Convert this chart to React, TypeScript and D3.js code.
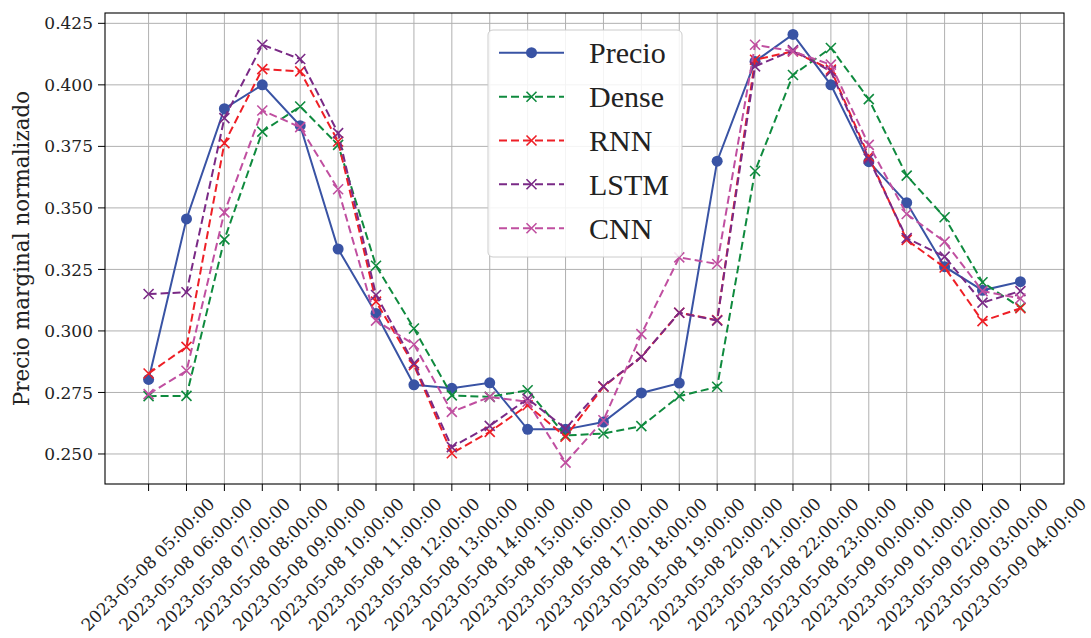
import React from "react";
import * as d3 from "d3";

// Hourly timestamps on the x axis
const timestamps = [
  "2023-05-08 05:00:00", "2023-05-08 06:00:00", "2023-05-08 07:00:00", "2023-05-08 08:00:00",
  "2023-05-08 09:00:00", "2023-05-08 10:00:00", "2023-05-08 11:00:00", "2023-05-08 12:00:00",
  "2023-05-08 13:00:00", "2023-05-08 14:00:00", "2023-05-08 15:00:00", "2023-05-08 16:00:00",
  "2023-05-08 17:00:00", "2023-05-08 18:00:00", "2023-05-08 19:00:00", "2023-05-08 20:00:00",
  "2023-05-08 21:00:00", "2023-05-08 22:00:00", "2023-05-08 23:00:00", "2023-05-09 00:00:00",
  "2023-05-09 01:00:00", "2023-05-09 02:00:00", "2023-05-09 03:00:00", "2023-05-09 04:00:00",
];

// Normalized marginal price and model predictions
const precio = [0.2803, 0.3455, 0.3903, 0.4000, 0.3834, 0.3333, 0.3071, 0.2781, 0.2767, 0.2789, 0.2600, 0.2600, 0.2630, 0.2748, 0.2788, 0.3690, 0.4095, 0.4205, 0.4000, 0.3688, 0.3521, 0.3261, 0.3165, 0.3200];
const dense = [0.2735, 0.2736, 0.3372, 0.3810, 0.3912, 0.3756, 0.3265, 0.3010, 0.2738, 0.2732, 0.2759, 0.2575, 0.2583, 0.2613, 0.2735, 0.2773, 0.3650, 0.4040, 0.4150, 0.3942, 0.3631, 0.3462, 0.3198, 0.3095];
const rnn = [0.2827, 0.2935, 0.3763, 0.4064, 0.4055, 0.3770, 0.3119, 0.2861, 0.2503, 0.2590, 0.2698, 0.2570, 0.2773, 0.2895, 0.3074, 0.3044, 0.4102, 0.4136, 0.4062, 0.3709, 0.3370, 0.3258, 0.3040, 0.3092];
const lstm = [0.3150, 0.3157, 0.3865, 0.4163, 0.4105, 0.3804, 0.3146, 0.2868, 0.2528, 0.2614, 0.2725, 0.2603, 0.2775, 0.2895, 0.3074, 0.3042, 0.4075, 0.4141, 0.4055, 0.3700, 0.3377, 0.3302, 0.3115, 0.3162];
const cnn = [0.2743, 0.2838, 0.3482, 0.3896, 0.3828, 0.3576, 0.3042, 0.2945, 0.2671, 0.2732, 0.2712, 0.2465, 0.2637, 0.2987, 0.3299, 0.3272, 0.4163, 0.4136, 0.4082, 0.3756, 0.3475, 0.3363, 0.3162, 0.3132];

const yTicks = [0.25, 0.275, 0.3, 0.325, 0.35, 0.375, 0.4, 0.425];

const seriesNames = ["Precio", "Dense", "RNN", "LSTM", "CNN"];
const seriesColors = ["#3953a4", "#0f8a3e", "#ee1f26", "#7a2a86", "#c04fa0"];
const seriesValues = [precio, dense, rnn, lstm, cnn];

const W = 1091;
const H = 638;
const plot = { left: 105, right: 1064, top: 13, bottom: 484 };

const tickFont = "'DejaVu Serif', serif";
const legendFont = "'Liberation Serif', serif";

function XMark({ x, y, color }: { x: number; y: number; color: string }) {
  const s = 5;
  return (
    <path
      d={`M${x - s},${y - s}L${x + s},${y + s}M${x - s},${y + s}L${x + s},${y - s}`}
      stroke={color}
      strokeWidth={1.6}
      fill="none"
    />
  );
}

export default function App() {
  const n = timestamps.length;
  const xPad = (n - 1) * 0.05;
  const x = d3
    .scaleLinear()
    .domain([-xPad, n - 1 + xPad])
    .range([plot.left, plot.right]);

  const all = seriesValues.flat();
  const [lo, hi] = d3.extent(all) as [number, number];
  const yPad = (hi - lo) * 0.05;
  const y = d3
    .scaleLinear()
    .domain([lo - yPad, hi + yPad])
    .range([plot.bottom, plot.top]);

  const line = d3
    .line<number>()
    .x((_, i) => x(i))
    .y((d) => y(d));

  const legendRows = [52.7, 96.7, 140.5, 184.3, 228.3];

  return (
    <svg
      width={W}
      height={H}
      style={{ position: "absolute", left: 0, top: 0, background: "#fff" }}
    >
      <rect x={0} y={0} width={W} height={H} fill="#fff" />
      {/* grid */}
      <g stroke="#b0b0b0" strokeWidth={1}>
        {timestamps.map((_, i) => (
          <line key={"gx" + i} x1={x(i)} x2={x(i)} y1={plot.top} y2={plot.bottom} />
        ))}
        {yTicks.map((t) => (
          <line key={"gy" + t} x1={plot.left} x2={plot.right} y1={y(t)} y2={y(t)} />
        ))}
      </g>

      {/* series */}
      {seriesValues.map((vals, si) => {
        const color = seriesColors[si];
        const solid = si === 0;
        return (
          <g key={seriesNames[si]}>
            <path
              d={line(vals) || ""}
              fill="none"
              stroke={color}
              strokeWidth={2}
              strokeDasharray={solid ? undefined : "8,4"}
            />
            {vals.map((v, i) =>
              solid ? (
                <circle key={i} cx={x(i)} cy={y(v)} r={5.5} fill={color} />
              ) : (
                <XMark key={i} x={x(i)} y={y(v)} color={color} />
              )
            )}
          </g>
        );
      })}

      {/* axes frame */}
      <rect
        x={plot.left}
        y={plot.top}
        width={plot.right - plot.left}
        height={plot.bottom - plot.top}
        fill="none"
        stroke="#000"
        strokeWidth={1.1}
      />

      {/* y ticks */}
      {yTicks.map((t) => (
        <g key={"yt" + t}>
          <line x1={plot.left - 7} x2={plot.left} y1={y(t)} y2={y(t)} stroke="#000" strokeWidth={1} />
          <text
            x={plot.left - 12}
            y={y(t)}
            dy="0.36em"
            textAnchor="end"
            fontFamily={tickFont}
            fontSize={17}
            fill="#222"
          >
            {d3.format(".3f")(t)}
          </text>
        </g>
      ))}

      {/* x ticks */}
      {timestamps.map((label, i) => (
        <g key={"xt" + i}>
          <line x1={x(i)} x2={x(i)} y1={plot.bottom} y2={plot.bottom + 7} stroke="#000" strokeWidth={1} />
          <text
            transform={`translate(${x(i) + 67},${505}) rotate(-45)`}
            textAnchor="end"
            fontFamily={tickFont}
            fontSize={17}
            fill="#222"
          >
            {label}
          </text>
        </g>
      ))}

      {/* y label */}
      <text
        transform={`translate(29,${(plot.top + plot.bottom) / 2}) rotate(-90)`}
        textAnchor="middle"
        fontFamily={tickFont}
        fontSize={21.5}
        fill="#222"
      >
        Precio marginal normalizado
      </text>

      {/* legend */}
      <g>
        <rect
          x={488}
          y={30}
          width={194}
          height={227}
          rx={5}
          fill="#fff"
          fillOpacity={0.85}
          stroke="#cccccc"
          strokeWidth={1}
        />
        {seriesNames.map((name, si) => {
          const cy = legendRows[si];
          const color = seriesColors[si];
          const solid = si === 0;
          return (
            <g key={"lg" + name}>
              <line
                x1={499}
                x2={564}
                y1={cy}
                y2={cy}
                stroke={color}
                strokeWidth={2}
                strokeDasharray={solid ? undefined : "8,4"}
              />
              {solid ? (
                <circle cx={531.5} cy={cy} r={5.5} fill={color} />
              ) : (
                <XMark x={531.5} y={cy} color={color} />
              )}
              <text
                x={589}
                y={cy}
                dy="0.35em"
                fontFamily={legendFont}
                fontSize={30}
                fill="#222"
              >
                {name}
              </text>
            </g>
          );
        })}
      </g>
    </svg>
  );
}
